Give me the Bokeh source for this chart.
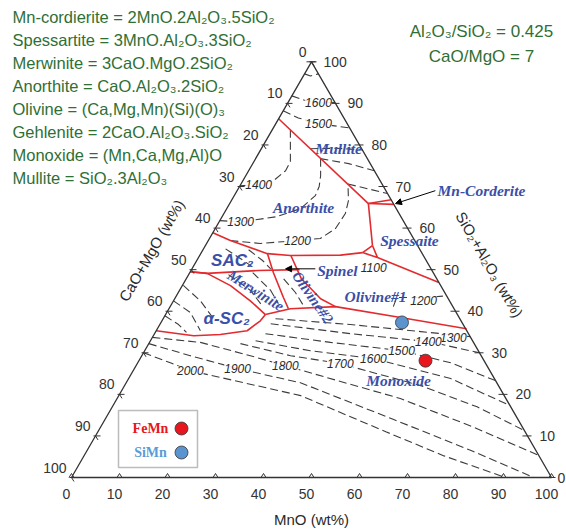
import numpy as np
from bokeh.plotting import figure
from bokeh.models import Range1d, Label, Arrow, NormalHead, BoxAnnotation
from bokeh.core.properties import value
from bokeh.embed import file_html
from bokeh.resources import INLINE

# ---------------- data: compositions as (MnO wt%, SiO2+Al2O3 wt%) ----------------
TICKS = [0, 10, 20, 30, 40, 50, 60, 70, 80, 90, 100]

# red phase boundaries
mullite_a = [0.0, 28.9];               mullite_c = [86.3, 65.9]
cord1_a = [28.9, 33.2];                cord1_c = [65.9, 66.8]
cord2_a = [28.9, 34.3];                cord2_c = [65.9, 65.7]
anor_spes_a = [28.9, 34.8];            anor_spes_c = [65.9, 55.8]
tri_a = [34.8, 33.6, 37.3, 34.8];      tri_c = [55.8, 54.1, 52.9, 55.8]
spes_ol_a = [37.3, 53.1];              spes_ol_c = [52.9, 46.9]
anor_sac_a = [33.6, 29.3, 18.9, 13.9, 4.6, 0.0]
anor_sac_c = [54.1, 53.5, 53.4, 53.85, 57.0, 58.9]
sac_mer_a = [0.0, 3.7, 13.9, 22.5];    sac_mer_c = [49.5, 49.1, 49.8, 50.0]
v1_a = [13.9, 17.4, 22.5, 24.9];       v1_c = [53.85, 49.3, 43.3, 40.6]
v2_a = [19.0, 24.0, 30.4, 34.45];      v2_c = [53.4, 47.8, 43.0, 41.1]
mer_asc_a = [0.0, 3.7, 10.05, 16.0, 20.8]; mer_asc_c = [49.5, 49.1, 46.15, 42.5, 39.2]
ol_mono_a = [20.8, 25.3, 34.45, 49.3, 64.4]; ol_mono_c = [39.2, 40.6, 41.1, 38.5, 35.8]
asc_mono_a = [20.8, 20.5, 18.95, 13.8, 8.4, 0.0]; asc_mono_c = [39.2, 37.7, 35.3, 34.4, 34.1, 35.3]

# dashed isotherms (upper part)
iso_top_a = [0.0, 1.5, 2.9];                 iso_top_c = [97.1, 96.6, 97.1]
iso1600u_a = [0.0, 3.0, 6.4, 9.8];          iso1600u_c = [91.8, 90.8, 90.1, 90.2]
iso1500u_a = [0.0, 4.0, 8.9, 15.9];         iso1500u_c = [88.2, 86.5, 85.1, 84.1]
mul1_a = [10.2, 15.5, 21.2];                mul1_c = [79.1, 79.2, 78.8]
mul2_a = [13.5, 20.0, 26.2];                mul2_c = [76.7, 75.5, 73.8]
mul3_a = [22.3, 31.7];                      mul3_c = [70.6, 68.3]
iso1400u_a = [0.0, 3.8, 6.4, 7.7, 7.6, 6.3, 3.8]
iso1400u_c = [70.2, 70.4, 71.4, 73.8, 76.0, 78.6, 83.6]
iso1300u_a = [0.0, 4.5, 11.2, 15.4, 16.9, 16.6, 15.6, 13.5]
iso1300u_c = [61.8, 61.5, 62.7, 64.7, 67.8, 70.0, 72.6, 76.8]
iso1200u_a = [4.6, 11.2, 18.6, 23.1, 25.05, 25.3, 24.4, 22.3]
iso1200u_c = [57.0, 56.3, 57.0, 57.5, 59.9, 63.5, 66.6, 70.6]
iso1200ol_a = [46.5, 46.1, 52.0, 56.3];     iso1200ol_c = [41.1, 43.3, 43.3, 43.7]

# dashed isotherms (monoxide field)
iso1300l_a = [23.4, 39.7, 55.2, 66.1];      iso1300l_c = [38.2, 36.8, 35.1, 33.9]
iso1400l_a = [23.0, 40.8, 58.0, 70.0];      iso1400l_c = [37.0, 34.6, 32.7, 30.0]
iso1500l_a = [23.1, 37.7, 53.5, 65.2, 76.7]; iso1500l_c = [34.6, 32.5, 30.5, 27.6, 23.3]
iso1600l_a = [21.9, 34.5, 48.6, 67.1, 82.7]; iso1600l_c = [32.9, 30.5, 28.6, 23.8, 17.3]
iso1700l_a = [19.1, 31.0, 42.3, 61.7, 76.0, 88.7]; iso1700l_c = [32.2, 29.3, 27.4, 22.1, 17.0, 11.3]
iso1800l_a = [0.0, 10.6, 22.6, 31.1, 59.0, 78.0, 94.7]; iso1800l_c = [33.7, 32.5, 29.3, 26.9, 19.0, 12.0, 5.3]
iso1900l_a = [0.0, 10.1, 21.5, 36.3, 60.0, 80.0, 96.3]; iso1900l_c = [32.2, 29.3, 26.2, 22.8, 14.0, 6.5, 0.0]
iso2000l_a = [0.0, 6.8, 11.9, 37.9, 60.0, 75.0, 90.4]; iso2000l_c = [30.0, 27.6, 25.7, 19.7, 11.0, 5.2, 0.0]

# short dashed contours inside small fields
m1_a = [0.2, 5.6, 10.5];   m1_c = [46.2, 42.5, 38.2]
m2_a = [0.0, 4.9, 9.2];    m2_c = [42.5, 39.7, 35.3]
m3_a = [0.0, 3.9, 6.5];    m3_c = [38.9, 36.8, 34.9]
m4_a = [8.3, 14.8, 19.1];  m4_c = [48.8, 45.0, 41.3]
m5_a = [13.1, 19.0, 22.2]; m5_c = [49.3, 45.0, 41.8]
s1_a = [4.6, 9.7, 13.2];   s1_c = [55.0, 52.2, 50.2]
s2_a = [9.5, 13.7, 16.4];  s2_c = [54.8, 52.2, 50.2]
o1_a = [20.3, 24.4, 27.7]; o1_c = [47.8, 44.5, 41.3]

# isotherm labels
iso_labels = ["1600", "1500", "1400", "1300", "1200", "1100", "1200",
              "1300", "1400", "1500", "1600", "1700", "1800", "1900", "2000"]
iso_lab_a = [6.4, 8.9, 3.8, 4.5, 18.6, 37.7, 52.1, 62.7, 58.0, 53.5, 48.6, 42.3, 31.1, 21.5, 11.9]
iso_lab_c = [90.1, 85.1, 70.4, 61.5, 57.0, 50.5, 42.5, 33.7, 32.7, 30.5, 28.6, 27.4, 26.9, 26.2, 25.7]

# phase field labels
phase_labels = ["Mullite", "Anorthite", "Spessaite", "Olivine#1", "Spinel", "Monoxide", "Mn-Corderite"]
phase_a = [16.1, 15.9, 41.9, 41.6, 30.5, 56.5, 50.9]
phase_c = [79.1, 64.9, 57.0, 43.5, 49.8, 23.3, 69.0]
big_labels = ["SAC\u2082", "\u03b1-SC\u2082"]
big_a = [7.4, 13.2]
big_c = [52.2, 38.2]
rot_labels = ["Merwinite", "Olivine#2"]
rot_a = [15.9, 28.6]
rot_c = [44.95, 43.3]
rot_deg = [-32, -55]

# arrows (start, end)
arrow_cord_a = [41.3, 34.55]; arrow_cord_c = [69.0, 65.9]
arrow_spin_a = [25.7, 19.5];  arrow_spin_c = [50.2, 50.2]

# samples
sample_names = ["FeMn", "SiMn"]
sample_mno = [59.7, 50.2]
sample_sial = [28.1, 37.3]
sample_colors = ["#e8161e", "#5b93cf"]
sample_text_colors = ["#e8161e", "#5b9bd5"]

formula_lines = [
    "Mn-cordierite = 2MnO.2Al\u2082O\u2083.5SiO\u2082",
    "Spessartite = 3MnO.Al\u2082O\u2083.3SiO\u2082",
    "Merwinite = 3CaO.MgO.2SiO\u2082",
    "Anorthite = CaO.Al\u2082O\u2083.2SiO\u2082",
    "Olivine = (Ca,Mg,Mn)(Si)(O)\u2083",
    "Gehlenite = 2CaO.Al\u2082O\u2083.SiO\u2082",
    "Monoxide = (Mn,Ca,Mg,Al)O",
    "Mullite = SiO\u2082.3Al\u2082O\u2083",
]
ratio_lines = ["Al\u2082O\u2083/SiO\u2082 = 0.425", "CaO/MgO = 7"]

# ---------------- geometry ----------------
S3 = np.sqrt(3) / 2
U = 1 / 480.0  # one screen pixel in data units
W, H = 566, 532


def tern(a, c):
    a = np.asarray(a, float)
    c = np.asarray(c, float)
    return (a + c / 2) / 100.0, c / 100.0 * S3


p = figure(width=W, height=H, x_range=Range1d(-71 / 480, 495 / 480),
           y_range=Range1d(-55 / 480, 477 / 480), output_backend="svg",
           toolbar_location=None, x_axis_type=None, y_axis_type=None, min_border=0)
p.outline_line_color = None
p.background_fill_color = "white"
p.border_fill_color = "white"

DASH = dict(line_color="#3c3c3c", line_width=1.1, line_dash="8 4")
RED = dict(line_color="#e32b2f", line_width=1.6)

dashed = [(iso_top_a, iso_top_c), (iso1600u_a, iso1600u_c), (iso1500u_a, iso1500u_c),
          (mul1_a, mul1_c), (mul2_a, mul2_c), (mul3_a, mul3_c),
          (iso1400u_a, iso1400u_c), (iso1300u_a, iso1300u_c), (iso1200u_a, iso1200u_c),
          (iso1200ol_a, iso1200ol_c),
          (iso1300l_a, iso1300l_c), (iso1400l_a, iso1400l_c), (iso1500l_a, iso1500l_c),
          (iso1600l_a, iso1600l_c), (iso1700l_a, iso1700l_c), (iso1800l_a, iso1800l_c),
          (iso1900l_a, iso1900l_c), (iso2000l_a, iso2000l_c),
          (m1_a, m1_c), (m2_a, m2_c), (m3_a, m3_c), (m4_a, m4_c), (m5_a, m5_c),
          (s1_a, s1_c), (s2_a, s2_c), (o1_a, o1_c)]
for a, c in dashed:
    x, y = tern(a, c)
    p.line(x, y, **DASH)

reds = [(mullite_a, mullite_c), (cord1_a, cord1_c), (cord2_a, cord2_c),
        (anor_spes_a, anor_spes_c), (tri_a, tri_c), (spes_ol_a, spes_ol_c),
        (anor_sac_a, anor_sac_c), (sac_mer_a, sac_mer_c), (v1_a, v1_c), (v2_a, v2_c),
        (mer_asc_a, mer_asc_c), (ol_mono_a, ol_mono_c), (asc_mono_a, asc_mono_c)]
for a, c in reds:
    x, y = tern(a, c)
    p.line(x, y, **RED)

# triangle frame
fx, fy = tern([0, 100, 0, 0], [0, 0, 100, 0])
p.line(fx, fy, line_color="#333333", line_width=1.3)

# ticks and tick labels
t = np.array(TICKS, float)
bx, by = tern(t, np.zeros_like(t))
lx, ly = tern(np.zeros_like(t), 100 - t)
rx, ry = tern(100 - t, t)
txs, tys = [], []
for i in range(len(t)):
    txs.append([bx[i] - 2.5 * U, bx[i], bx[i] + 2.5 * U]); tys.append([by[i], by[i] + 4 * U, by[i]])
    txs.append([lx[i] - 2 * U, lx[i] + 5 * U]); tys.append([ly[i], ly[i]])
    txs.append([lx[i], lx[i] + 2.5 * U]); tys.append([ly[i], ly[i] - 4 * U])
    txs.append([rx[i] - 5 * U, rx[i] + 4 * U]); tys.append([ry[i], ry[i]])
p.multi_line(txs, tys, line_color="#333333", line_width=1)

lab = [str(int(v)) for v in TICKS]
TF = dict(text_font=value("Liberation Sans"), text_font_size="14px", text_color="#333333",
          text_baseline="middle")
p.text(bx - 5 * U, by - 16 * U, text=lab, text_align="center", **TF)
p.text(lx - 5 * U, ly + 10 * U, text=lab, text_align="right", **TF)
r_off = np.where(t == 0, 6.0, 12.0) * U
p.text(rx + r_off, ry, text=lab, text_align="left", **TF)

# isotherm labels
ix, iy = tern(iso_lab_a, iso_lab_c)
p.text(ix, iy, text=iso_labels, text_font=value("Liberation Sans"), text_font_style="italic",
       text_font_size="12px", text_color="#2a2a2a", text_align="center",
       text_baseline="middle", background_fill_color="white", background_fill_alpha=0.9)

# phase labels
PH = dict(text_font=value("Liberation Serif"), text_font_style="bold italic",
          text_color="#3b4fa8", text_align="center", text_baseline="middle")
px_, py_ = tern(phase_a, phase_c)
p.text(px_, py_, text=phase_labels, text_font_size="15.5px", **PH)
gx, gy = tern(big_a, big_c)
p.text(gx, gy, text=big_labels, text_font=value("Liberation Sans"), text_font_style="bold italic",
       text_font_size="17px", text_color="#3b4fa8", text_align="center", text_baseline="middle")
qx, qy = tern(rot_a, rot_c)
p.text(qx, qy, text=rot_labels, angle=np.radians(rot_deg), text_font_size="15px", **PH)

# arrows
for aa, cc in [(arrow_cord_a, arrow_cord_c), (arrow_spin_a, arrow_spin_c)]:
    ax_, ay_ = tern(aa, cc)
    p.add_layout(Arrow(x_start=ax_[0], y_start=ay_[0], x_end=ax_[1], y_end=ay_[1],
                       line_color="black", line_width=1,
                       end=NormalHead(size=6, fill_color="black", line_color="black")))

# samples
sx, sy = tern(sample_mno, sample_sial)
p.scatter(sx, sy, size=13, fill_color=sample_colors, line_color="#333333", line_width=0.8)

# legend box (screen px), transparent so the keys show
p.add_layout(BoxAnnotation(left=118, right=197, bottom=H - 467, top=H - 410,
                           left_units="screen", right_units="screen",
                           top_units="screen", bottom_units="screen",
                           fill_alpha=0, line_color="#222222", line_width=1.5))
for i, name in enumerate(sample_names):
    yy = H - (428 + 24 * i)
    p.add_layout(Label(x=150, y=yy, x_units="screen", y_units="screen", text=name,
                       text_font="Liberation Serif", text_font_style="bold", text_font_size="14px",
                       text_color=sample_text_colors[i], text_align="center",
                       text_baseline="middle"))
leg_x = np.array([181, 181]); leg_y = np.array([428, 452])
p.scatter((leg_x - 71) * U, (477 - leg_y) * U, size=13, fill_color=sample_colors,
          line_color="#333333", line_width=0.8)

# formula text (top left)
for i, s in enumerate(formula_lines):
    p.add_layout(Label(x=12, y=H - (16 + 23.1 * i), x_units="screen", y_units="screen", text=s,
                       text_font="Liberation Sans", text_font_size="16.5px",
                       text_color="#2f6f35", text_baseline="middle"))
for i, s in enumerate(ratio_lines):
    p.add_layout(Label(x=481, y=H - (31 + 25 * i), x_units="screen", y_units="screen", text=s,
                       text_font="Liberation Sans", text_font_size="17px",
                       text_color="#2f6f35", text_baseline="middle", text_align="center"))

# axis titles
AT = dict(x_units="screen", y_units="screen", text_font="Liberation Sans", text_font_size="15px",
          text_color="#2a2a2a", text_align="center", text_baseline="middle")
p.add_layout(Label(x=311, y=H - 519, text="MnO (wt%)", **AT))
p.add_layout(Label(x=151, y=H - 250, text="CaO+MgO (wt%)", angle=np.pi / 3, **AT))
p.add_layout(Label(x=489, y=H - 264, text="SiO\u2082+Al\u2082O\u2083 (wt%)", angle=-np.pi / 3, **AT))

open("out.html", "w").write(file_html(p, INLINE))
